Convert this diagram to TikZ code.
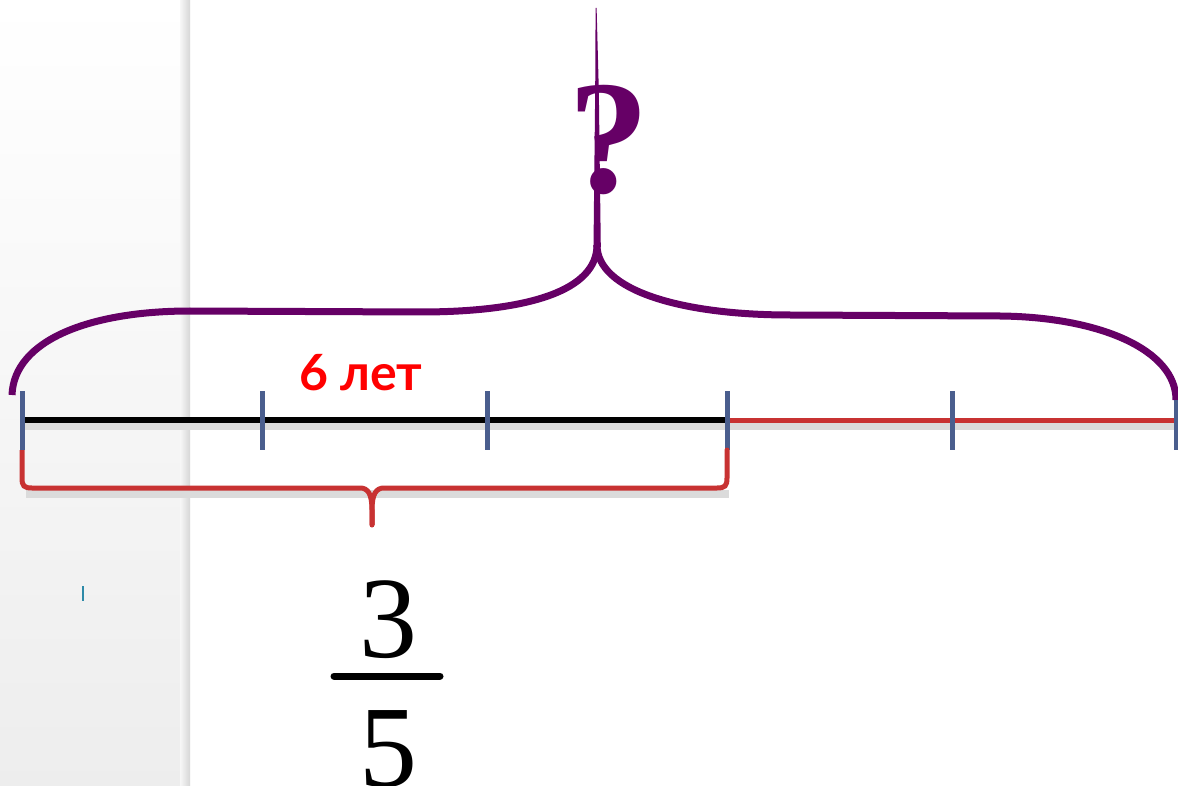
\documentclass[tikz,border=0pt]{standalone}
\usepackage{fontspec}
\newfontfamily\numfont{Liberation Serif}
\newfontfamily\lblfont{Lato}
\begin{document}
\begin{tikzpicture}[x=1pt,y=-1pt]
\definecolor{pur}{HTML}{660066}
\definecolor{tickc}{HTML}{4A5E8E}
\definecolor{rline}{HTML}{C83232}
\definecolor{teal}{HTML}{2E8AA8}
\tikzset{
  tickmark/.style={tickc,line width=5pt},
  shadowline/.style={black!14,line width=8pt},
  purbrace/.style={pur,line width=7pt},
  redbrace/.style={rline,line width=5pt},
}
\useasboundingbox (0,0) rectangle (1178,786);
\fill[white] (0,0) rectangle (1178,786);
\shade[top color=white,bottom color=black!7] (0,0) rectangle (183,786);
\shade[left color=black!3,right color=black!16] (180,0) rectangle (190,786);
% teal mark
\draw[teal,line width=2pt] (83,586) -- (83,601);
% purple brace
\draw[purbrace] (12,395) .. controls (14,340) and (90,311) .. (190,311) -- (420,312) .. controls (530,312) and (597,290) .. (597,245);
\draw[purbrace] (597,245) .. controls (597,290) and (680,315) .. (790,315) -- (1000,316) .. controls (1100,317) and (1176,350) .. (1176,400);
\fill[pur] (593.5,247) -- (595.2,90) -- (595.6,8) -- (596.6,8) -- (598.8,90) -- (600.8,247) -- cycle;
\node[pur,font=\numfont\bfseries\fontsize{162}{162}\selectfont,anchor=base,inner sep=0pt] (q) at (609,193) {?};
% shadows
\draw[shadowline] (22,426) -- (1178,426);
\draw[shadowline] (26,494) -- (729,494);
% number line
\draw[line width=6pt] (22,420) -- (727,420);
\draw[rline,line width=5pt] (727,420) -- (1178,420);
\foreach \x in {22,262,487,727,952} \draw[tickmark] (\x,391) -- (\x,450);
\draw[tickmark] (1176,400) -- (1176,450);
% red brace
\draw[redbrace] (22,450) -- (22,478) .. controls (22,486) and (24,488) .. (32,488) -- (360,488) .. controls (368,488) and (372,494) .. (372,510) -- (372,525);
\draw[redbrace,line cap=round] (372,525) -- (372,510) .. controls (372,494) and (376,488) .. (384,488) -- (717,488) .. controls (725,488) and (727,486) .. (727,478) -- (727,450);
% labels
\node[red,font=\lblfont\bfseries\fontsize{50}{50}\selectfont,anchor=base,inner sep=0pt] (lab) at (361,390) {6 лет};
\node[font=\numfont\fontsize{116}{116}\selectfont,anchor=base,inner sep=0pt] (n3) at (388,657) {3};
\draw[line width=7pt,line cap=round] (334,676) -- (440,676);
\node[font=\numfont\fontsize{116}{116}\selectfont,anchor=base,inner sep=0pt] (n5) at (388,786) {5};
\end{tikzpicture}
\end{document}
